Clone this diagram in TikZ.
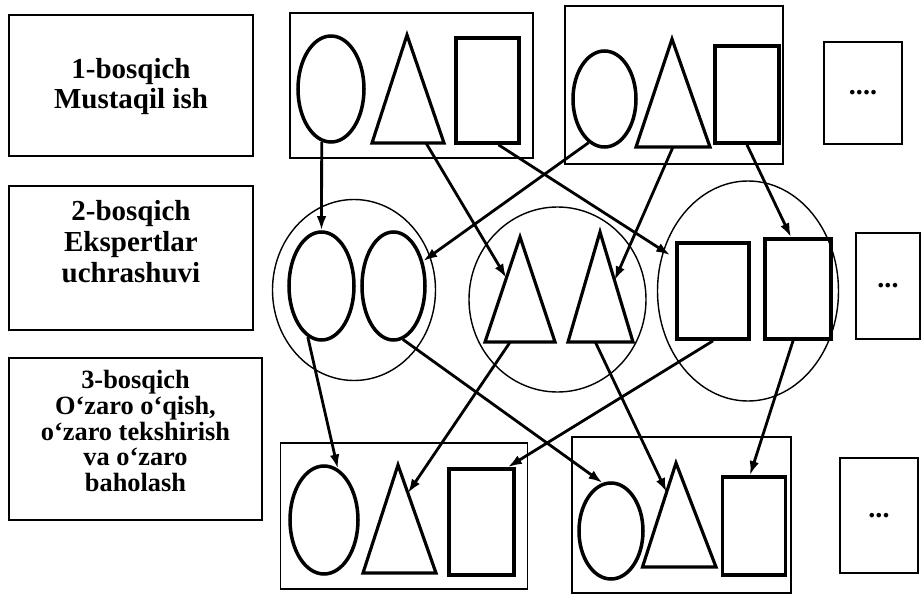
\documentclass[tikz,border=0pt]{standalone}
\usepackage{fontspec}
\setmainfont{Liberation Serif}
\usetikzlibrary{shapes.geometric,arrows.meta,calc}

\begin{document}
\begin{tikzpicture}[
  stagebox/.style={rectangle, draw, line width=1pt},
  stagetext/.style={align=center, inner sep=0pt, font=\fontsize{16.5}{17.5}\selectfont\bfseries},
  grpbox/.style={rectangle, draw, line width=1.1pt},
  ring/.style={ellipse, draw, inner sep=0pt, line width=0.8pt},
  oval/.style={ellipse, draw, inner sep=0pt, line width=2pt},
  block/.style={rectangle, draw, inner sep=0pt, line width=2.1pt},
  tri/.style={draw, line width=1.8pt},
  dotsbox/.style={rectangle, draw, line width=1.1pt, font=\fontsize{16}{17}\selectfont\bfseries},
  arr/.style={-{Latex[length=8pt,width=5.5pt]}, line width=1.6pt}
]
  \useasboundingbox (0,0) rectangle (18.46,11.88);
  \node[stagebox, minimum width=4.88cm, minimum height=2.82cm] (stage1) at (2.62,10.17) {};
  \node[stagebox, minimum width=4.88cm, minimum height=2.88cm] (stage2) at (2.62,6.72) {};
  \node[stagebox, minimum width=5.06cm, minimum height=3.24cm] (stage3) at (2.71,3.10) {};
  \node[stagetext] (stage1txt) at (2.62,10.15) {1-bosqich\\Mustaqil ish};
  \node[stagetext] (stage2txt) at (2.62,7.05) {2-bosqich\\Ekspertlar\\uchrashuvi};
  \node[stagetext, font=\fontsize{15}{14.6}\selectfont\bfseries] (stage3txt) at (2.71,3.26) {3-bosqich\\O‘zaro o‘qish,\\o‘zaro tekshirish\\va o‘zaro\\baholash};

  \node[grpbox, minimum width=4.86cm, minimum height=2.90cm] (grpA) at (8.23,10.17) {};
  \node[grpbox, minimum width=4.36cm, minimum height=3.16cm] (grpB) at (13.48,10.18) {};
  \node[oval, minimum width=1.32cm, minimum height=2.12cm] (A1) at (6.62,10.10) {};
  \draw[tri] (8.14,11.18) coordinate (A2-apex) -- (7.44,9.02) coordinate (A2-left) -- (8.88,9.02) coordinate (A2-right) -- cycle;
  \node[block, minimum width=1.26cm, minimum height=2.10cm] (A3) at (9.75,10.07) {};
  \node[oval, minimum width=1.26cm, minimum height=1.92cm] (B1) at (12.09,9.90) {};
  \draw[tri] (13.44,11.10) coordinate (B2-apex) -- (12.72,8.94) coordinate (B2-left) -- (14.20,8.94) coordinate (B2-right) -- cycle;
  \node[block, minimum width=1.28cm, minimum height=1.94cm] (B3) at (14.94,9.99) {};
  \node[dotsbox, minimum width=1.56cm, minimum height=2.04cm] (moreA) at (17.26,10.02) {....};

  \node[ring, minimum width=3.26cm, minimum height=3.62cm] (ringC1) at (7.08,6.08) {};
  \node[ring, minimum width=3.54cm, minimum height=3.70cm] (ringC2) at (11.15,5.89) {};
  \node[ring, minimum width=3.62cm, minimum height=4.40cm] (ringC3) at (14.96,6.06) {};
  \node[oval, minimum width=1.30cm, minimum height=2.16cm] (C1a) at (6.43,6.16) {};
  \node[oval, minimum width=1.26cm, minimum height=2.16cm] (C1b) at (7.87,6.16) {};
  \draw[tri] (10.40,7.14) coordinate (C2a-apex) -- (9.70,5.04) coordinate (C2a-left) -- (11.10,5.04) coordinate (C2a-right) -- cycle;
  \draw[tri] (12.00,7.24) coordinate (C2b-apex) -- (11.36,5.04) coordinate (C2b-left) -- (12.66,5.04) coordinate (C2b-right) -- cycle;
  \node[block, minimum width=1.44cm, minimum height=1.92cm] (C3a) at (14.26,6.06) {};
  \node[block, minimum width=1.32cm, minimum height=2.00cm] (C3b) at (15.96,6.10) {};
  \node[dotsbox, minimum width=1.28cm, minimum height=2.12cm] (moreC) at (17.76,6.16) {...};

  \node[grpbox, minimum width=4.94cm, minimum height=2.92cm] (grpD) at (8.08,1.56) {};
  \node[grpbox, minimum width=4.38cm, minimum height=3.12cm] (grpE) at (13.63,1.58) {};
  \node[oval, minimum width=1.36cm, minimum height=2.16cm] (D1) at (6.48,1.48) {};
  \draw[tri] (7.96,2.58) coordinate (D2-apex) -- (7.26,0.42) coordinate (D2-left) -- (8.72,0.42) coordinate (D2-right) -- cycle;
  \node[block, minimum width=1.30cm, minimum height=2.12cm] (D3) at (9.63,1.44) {};
  \node[oval, minimum width=1.28cm, minimum height=1.92cm] (E1) at (12.22,1.26) {};
  \draw[tri] (13.52,2.62) coordinate (E2-apex) -- (12.85,0.54) coordinate (E2-left) -- (14.32,0.54) coordinate (E2-right) -- cycle;
  \node[block, minimum width=1.26cm, minimum height=1.96cm] (E3) at (15.08,1.36) {};
  \node[dotsbox, minimum width=1.56cm, minimum height=2.30cm] (moreE) at (17.58,1.57) {...};

  \draw[arr] (A1.260) -- (C1a.north);
  \draw[arr] ($(A2-left)!0.75!(A2-right)$) -- ($(C2a-apex)!0.39!(C2a-left)$);
  \draw[arr] ($(A3.south)!0.33!(A3.south east)$) -- ([xshift=-0.1cm,yshift=-0.28cm]C3a.north west);
  \draw[arr] (B1.250) -- (C1b.40);
  \draw[arr] ($(B2-left)!0.5!(B2-right)$) -- ($(C2b-apex)!0.44!(C2b-right)$);
  \draw[arr] (B3.south) -- ([xshift=-0.14cm]C3b.north);
  \draw[arr] (C1a.255) -- (D1.75);
  \draw[arr] (C1b.280) -- (E1.100);
  \draw[arr] ($(C2a-left)!0.36!(C2a-right)$) -- ($(D2-apex)!0.26!(D2-right)$);
  \draw[arr] ($(C2b-left)!0.42!(C2b-right)$) -- ($(E2-apex)!0.28!(E2-left)$);
  \draw[arr] (C3a.south) -- ([xshift=-0.16cm]D3.north east);
  \draw[arr] ([xshift=-0.1cm]C3b.south) -- ([xshift=-0.08cm]E3.north);
\end{tikzpicture}
\end{document}
